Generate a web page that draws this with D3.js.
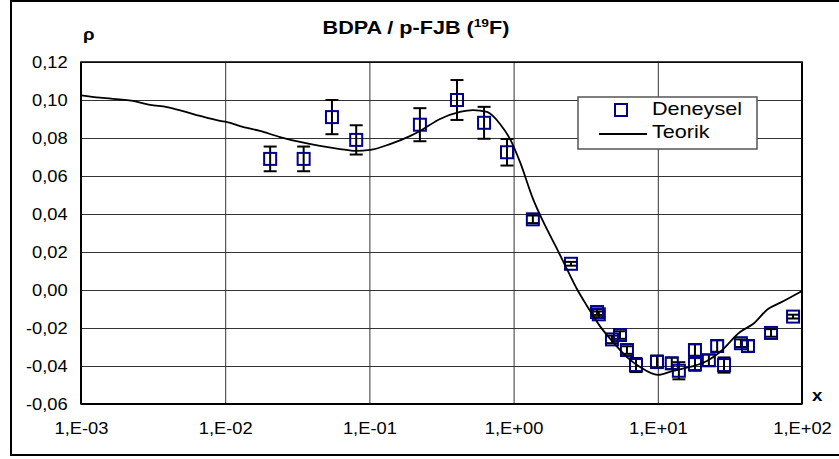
<!DOCTYPE html>
<html>
<head>
<meta charset="utf-8">
<script src="https://cdn.jsdelivr.net/npm/d3@7"></script>
<style>
  html, body { margin: 0; padding: 0; background: #fff; }
  svg { display: block; font-family: "Liberation Sans", Arial, sans-serif; }
</style>
</head>
<body>
<svg id="chart" width="839" height="459"></svg>
<script>
// Measured data (Deneysel): x, rho, half-width of error bar
const expX   = [0.0205, 0.035, 0.055, 0.081, 0.224, 0.405, 0.624, 0.90, 1.36, 2.50, 3.79, 3.90, 4.81, 5.47, 6.11, 7.06, 9.87, 12.5, 14.0, 18.1, 18.1, 22.6, 25.8, 28.8, 37.7, 42.2, 61.0, 86.7];
const expRho = [0.069, 0.069, 0.091, 0.079, 0.087, 0.100, 0.088, 0.0725, 0.0372, 0.0138, -0.0116, -0.0128, -0.0260, -0.0237, -0.0316, -0.0395, -0.0378, -0.0386, -0.0425, -0.0316, -0.0390, -0.0370, -0.0295, -0.0395, -0.0280, -0.0295, -0.0226, -0.0140];
const expErr = [0.0065, 0.0065, 0.009, 0.0077, 0.0087, 0.0105, 0.0084, 0.007, 0.002, 0.001, 0.0015, 0.0015, 0.002, 0.002, 0.002, 0.0037, 0.0033, 0.003, 0.0045, 0.003, 0.0035, 0.003, 0.003, 0.004, 0.002, 0.003, 0.002, 0.001];

// Theoretical curve (Teorik)
const thX   = [0.001, 0.001355, 0.002295, 0.00301, 0.00395, 0.0051, 0.00669, 0.0092, 0.0103, 0.01267, 0.01743, 0.024, 0.033, 0.0454, 0.0625, 0.0807, 0.101, 0.139, 0.191, 0.2244, 0.309, 0.425, 0.522, 0.654, 0.805, 0.944, 1.107, 1.363, 1.704, 2.0, 2.345, 2.75, 3.23, 3.97, 4.89, 6.11, 7.53, 10, 12.7, 16.7, 21.9, 27.0, 37.2, 45.7, 58.1, 70.3, 100];
const thRho = [0.1025, 0.1012, 0.0995, 0.0974, 0.0963, 0.0942, 0.0916, 0.0890, 0.0884, 0.0863, 0.0837, 0.0805, 0.0779, 0.0758, 0.0742, 0.0732, 0.0737, 0.0768, 0.0810, 0.0837, 0.0900, 0.0937, 0.0947, 0.0937, 0.0874, 0.0795, 0.0674, 0.0480, 0.0320, 0.0216, 0.0110, 0.0005, -0.0084, -0.0190, -0.0274, -0.0353, -0.0405, -0.0447, -0.0426, -0.0405, -0.0374, -0.0326, -0.0221, -0.0179, -0.0100, -0.0068, -0.0005];

const xTicks = [1e-3, 1e-2, 1e-1, 1e0, 1e1, 1e2];
const xTickLabels = ["1,E-03", "1,E-02", "1,E-01", "1,E+00", "1,E+01", "1,E+02"];
const yTicks = [-0.06, -0.04, -0.02, 0.00, 0.02, 0.04, 0.06, 0.08, 0.10, 0.12];

const titleMain = "BDPA / p-FJB (";
const titleSup = "19";
const titleEnd = "F)";
const seriesNames = ["Deneysel", "Teorik"];

const svg = d3.select("#chart");
const plot = { left: 81, right: 802, top: 62, bottom: 404 };

const x = d3.scaleLog().domain([1e-3, 1e2]).range([plot.left, plot.right]);
const y = d3.scaleLinear().domain([-0.06, 0.12]).range([plot.bottom, plot.top]);

// the typeface used here is set a little wide
const wide = 1.11;

// outer frame
svg.append("rect")
  .attr("x", 11).attr("y", 1).attr("width", 840).attr("height", 454)
  .attr("fill", "none").attr("stroke", "#000").attr("stroke-width", 2);

// gridlines
svg.append("g")
  .attr("transform", `translate(${plot.left},0)`)
  .call(d3.axisLeft(y).tickValues(yTicks).tickSize(-(plot.right - plot.left)).tickFormat(""))
  .call(g => g.select(".domain").remove())
  .call(g => g.selectAll("line").attr("stroke", "#333").attr("stroke-width", 1));

svg.append("g")
  .attr("transform", `translate(0,${plot.bottom})`)
  .call(d3.axisBottom(x).tickValues(xTicks).tickSize(-(plot.bottom - plot.top)).tickFormat(""))
  .call(g => g.select(".domain").remove())
  .call(g => g.selectAll("line").attr("stroke", "#333").attr("stroke-width", 1));

// plot border
svg.append("rect")
  .attr("x", plot.left).attr("y", plot.top)
  .attr("width", plot.right - plot.left).attr("height", plot.bottom - plot.top)
  .attr("fill", "none").attr("stroke", "#000").attr("stroke-width", 1.5);
svg.append("line").attr("x1", plot.left).attr("x2", plot.right).attr("y1", plot.bottom).attr("y2", plot.bottom)
  .attr("stroke", "#000").attr("stroke-width", 2);
svg.append("line").attr("x1", plot.left).attr("x2", plot.left).attr("y1", plot.top).attr("y2", plot.bottom)
  .attr("stroke", "#000").attr("stroke-width", 2);
svg.append("line").attr("x1", plot.right).attr("x2", plot.right).attr("y1", plot.top).attr("y2", plot.bottom)
  .attr("stroke", "#000").attr("stroke-width", 2);

// axis labels
const yFmt = v => (v < 0 ? "-" : "") + Math.abs(v).toFixed(2).replace(".", ",");
svg.append("g")
  .attr("transform", `translate(${plot.left},0)`)
  .call(d3.axisLeft(y).tickValues(yTicks).tickSize(0).tickPadding(12).tickFormat(yFmt))
  .call(g => g.select(".domain").remove())
  .call(g => g.selectAll("text").attr("font-size", 16.5).attr("fill", "#000")
    .attr("font-family", "Liberation Sans, Arial, sans-serif")
    .attr("transform", `scale(${wide},1)`));

svg.append("g")
  .attr("transform", `translate(0,${plot.bottom})`)
  .call(d3.axisBottom(x).tickValues(xTicks).tickSize(0).tickPadding(18)
    .tickFormat((d, i) => xTickLabels[i]))
  .call(g => g.select(".domain").remove())
  .call(g => g.selectAll("text").attr("font-size", 16.5).attr("fill", "#000")
    .attr("font-family", "Liberation Sans, Arial, sans-serif")
    .attr("transform", `scale(${wide},1)`));

// title
const title = svg.append("text")
  .attr("transform", "translate(416,34) scale(1.2,1)").attr("text-anchor", "middle")
  .attr("font-size", 18).attr("font-weight", "bold");
title.append("tspan").text(titleMain);
title.append("tspan").attr("font-size", 11.5).attr("dy", -7).text(titleSup);
title.append("tspan").attr("dy", 7).text(titleEnd);

svg.append("text").attr("transform", "translate(83,40) scale(1.1,1)")
  .attr("font-size", 17).attr("font-weight", "bold").text("ρ");
svg.append("text").attr("transform", "translate(812,401) scale(1.1,1)")
  .attr("font-size", 17).attr("font-weight", "bold").text("x");

// experimental points
const pts = expX.map((v, i) => ({ x: v, r: expRho[i], e: expErr[i] }));
const cap = 6.5;
const eb = svg.append("g").attr("stroke", "#000").attr("stroke-width", 2);
pts.forEach(p => {
  const cx = x(p.x), y1 = y(p.r + p.e), y2 = y(p.r - p.e);
  eb.append("line").attr("x1", cx).attr("x2", cx).attr("y1", y1).attr("y2", y2);
  eb.append("line").attr("x1", cx - cap).attr("x2", cx + cap).attr("y1", y1).attr("y2", y1);
  eb.append("line").attr("x1", cx - cap).attr("x2", cx + cap).attr("y1", y2).attr("y2", y2);
});

const ms = 12;
svg.append("g").selectAll("rect").data(pts).join("rect")
  .attr("x", d => x(d.x) - ms / 2).attr("y", d => y(d.r) - ms / 2)
  .attr("width", ms).attr("height", ms)
  .attr("fill", "none").attr("stroke", "#00008b").attr("stroke-width", 2);

// theoretical curve
const th = thX.map((v, i) => [v, thRho[i]]);
svg.append("path")
  .datum(th)
  .attr("fill", "none").attr("stroke", "#000").attr("stroke-width", 1.8)
  .attr("d", d3.line().x(d => x(d[0])).y(d => y(d[1])).curve(d3.curveMonotoneX));

// legend
const lg = svg.append("g");
lg.append("rect").attr("x", 578).attr("y", 97).attr("width", 179).attr("height", 52)
  .attr("fill", "#fff").attr("stroke", "#555").attr("stroke-width", 1.5);
lg.append("rect").attr("x", 621 - 6).attr("y", 110 - 6).attr("width", 12).attr("height", 12)
  .attr("fill", "none").attr("stroke", "#00008b").attr("stroke-width", 2);
lg.append("line").attr("x1", 599).attr("x2", 647).attr("y1", 134).attr("y2", 134)
  .attr("stroke", "#000").attr("stroke-width", 1.8);
lg.append("text").attr("transform", "translate(652,115) scale(1.2,1)").attr("font-size", 18).text(seriesNames[0]);
lg.append("text").attr("transform", "translate(652,138) scale(1.2,1)").attr("font-size", 18).text(seriesNames[1]);
</script>
</body>
</html>
